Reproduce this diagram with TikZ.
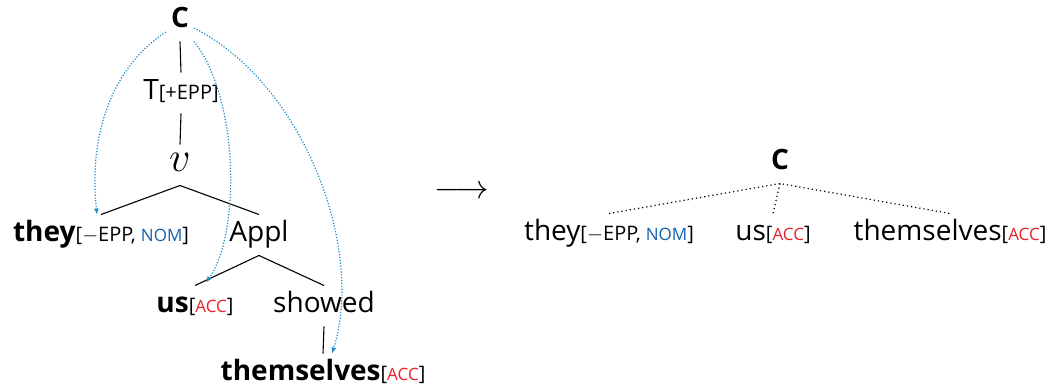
\documentclass[tikz,border=0pt]{standalone}
\usepackage{fontspec}
\setmainfont{Open Sans}
\usetikzlibrary{arrows.meta}

\definecolor{nomblue}{RGB}{16,96,176}
\definecolor{accred}{RGB}{232,32,42}
\definecolor{movblue}{RGB}{26,140,200}

\newcommand{\ftsize}{\fontsize{20}{24}\selectfont}
\newcommand{\scsize}{\fontsize{17}{20}\selectfont}
\newcommand{\feat}[1]{{\ftsize[#1]}}
\newcommand{\nomf}{{\scsize\color{nomblue}NOM}}
\newcommand{\accf}{{\scsize\color{accred}ACC}}

\tikzset{
	word/.style={font=\fontsize{28}{34}\selectfont, inner sep=0pt, outer ysep=7.5pt, text height=20pt, text depth=6pt, anchor=base},
	branch/.style={line width=1.1pt},
	dotbranch/.style={line width=1.2pt, dash pattern=on 1.2pt off 3pt},
	movearrow/.style={movblue, line width=1.2pt, dash pattern=on 1.2pt off 1.7pt, -{Latex[length=6pt,width=5pt]}}
}

\begin{document}
\begin{tikzpicture}[x=1pt, y=-1pt]
	\useasboundingbox (0,0) rectangle (1055,387);
	% left tree
	\draw (180,28) node[word](C){\textbf{C}};
	\draw (181,100) node[word](T){T\feat{+EPP}};
	\draw (180,172) node[word](v){\scalebox{1.7}{$v$}};
	\draw (101,242) node[word](they){\textbf{they}\feat{$-$EPP, \nomf}};
	\draw (259,242) node[word](Appl){Appl};
	\draw (195,313) node[word](us){\textbf{us}\feat{\accf}};
	\draw (324,313) node[word](showed){showed};
	\draw (323,381) node[word](them){\textbf{themselves}\feat{\accf}};
	
	\draw[branch] (C.south) -- (T.north);
	\draw[branch] (T.south) -- (v.north);
	\draw[branch] (they.north) -- (v.south) -- (Appl.north);
	\draw[branch] (us.north) -- (Appl.south) -- (showed.north);
	\draw[branch] (showed.south) -- (them.north);
	
	% movement
	\draw[movearrow] ([xshift=-5pt,yshift=-4pt]C.base west) .. controls (115,65) and (88,130) .. ([xshift=-4pt]they.north);
	\draw[movearrow] ([xshift=5pt]C.south east) .. controls (240,100) and (240,235) .. ([xshift=11pt,yshift=3pt]us.north);
	\draw[movearrow] ([xshift=5pt]C.base east) .. controls (305,85) and (365,250) .. ([xshift=9pt]them.north);
	
	\draw (462,192) node[word, anchor=center, text height=, text depth=, outer ysep=0pt](arr){\scalebox{1.35}{$\longrightarrow$}};
	
	% right tree
	\draw (780,170) node[word](C2){\textbf{C}};
	\draw (609,241) node[word](they2){they\feat{$-$EPP, \nomf}};
	\draw (773,241) node[word](us2){us\feat{\accf}};
	\draw (950,241) node[word](them2){themselves\feat{\accf}};
	
	\draw[dotbranch] (they2.north) -- (C2.south) -- (them2.north);
	\draw[dotbranch] (C2.south) -- (us2.north);
\end{tikzpicture}
\end{document}
